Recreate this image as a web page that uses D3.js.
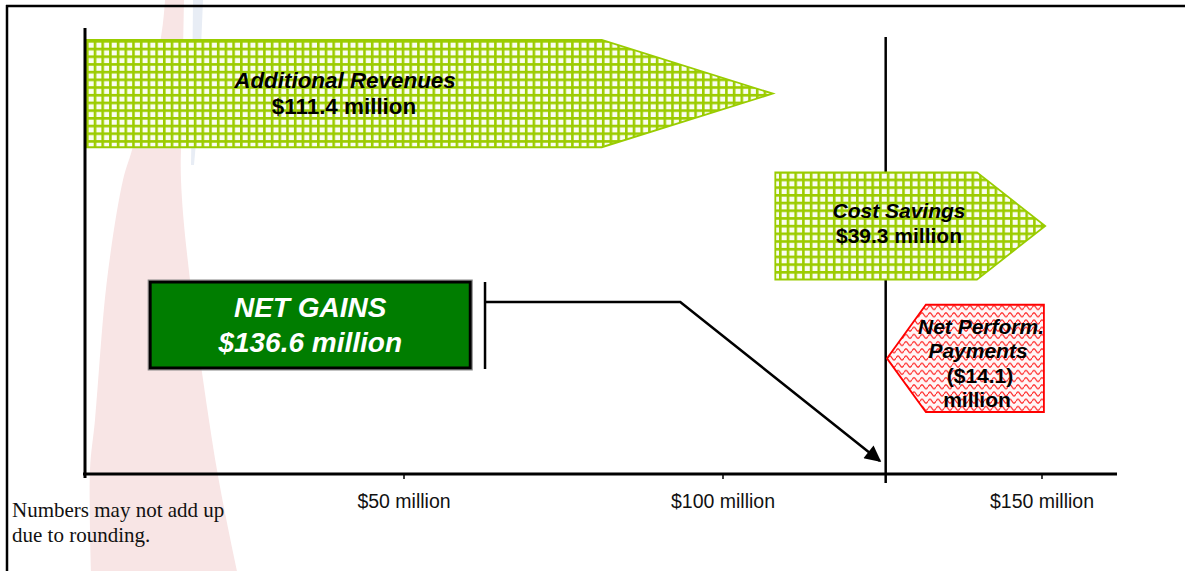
<!DOCTYPE html>
<html>
<head>
<meta charset="utf-8">
<script src="https://cdn.jsdelivr.net/npm/d3@7"></script>
<style>
  html, body { margin: 0; padding: 0; background: #fff; }
  svg { display: block; }
</style>
</head>
<body>
<script>
// ---- Data ----
const segments   = ["rev", "cost", "perf"];
const segTitles  = [["Additional Revenues"], ["Cost Savings"], ["Net Perform.", "Payments"]];
const segValues  = [111.4, 39.3, -14.1];          // $ million, as labelled
const segStart   = [0, 108.2, 150.3];             // drawn extent on the axis ($M)
const segBend    = [81.0, 139.8, 131.8];
const segTip     = [107.8, 150.5, 125.7];
const netGain    = 136.6;
const netLineAt  = 125.5;                         // vertical reference line
const netBoxFrom = [9.9, 60.7];                   // NET GAINS box extent on axis
const connector  = [62.7, 93.3, 124.6];           // bracket, knee, arrow tip
const tickValues = [50, 100, 150];
const tickLabels = ["$50 million", "$100 million", "$150 million"];
const noteLines  = ["Numbers may not add up", "due to rounding."];

// ---- Setup ----
const W = 1185, H = 571;
const svg = d3.select("body").append("svg").attr("width", W).attr("height", H);
const defs = svg.append("defs");

const x = d3.scaleLinear().domain([0, 150]).range([85, 1042]);
const y = d3.scaleBand().domain(segments).range([40, 412]).paddingInner(0.19).paddingOuter(0);
const axisY = 474;

// patterns
const gp = defs.append("pattern").attr("id", "grid").attr("patternUnits", "userSpaceOnUse")
  .attr("width", 7.7).attr("height", 7.7).attr("x", 86).attr("y", 40);
gp.append("rect").attr("width", 7.7).attr("height", 7.7).attr("fill", "#fafdf0");
gp.append("path").attr("d", "M0,1.3 H7.7 M1.3,0 V7.7").attr("stroke", "#9ccc00").attr("stroke-width", 2.6);

const rp = defs.append("pattern").attr("id", "wave").attr("patternUnits", "userSpaceOnUse")
  .attr("width", 8).attr("height", 7.2).attr("x", 0).attr("y", 304);
rp.append("rect").attr("width", 8).attr("height", 7.2).attr("fill", "#fff6f6");
rp.append("path").attr("d", "M0,3.6 C1.5,1 2.5,1 4,3.6 C5.5,6.2 6.5,6.2 8,3.6")
  .attr("fill", "none").attr("stroke", "#ff2a2a").attr("stroke-width", 1.3);

// ---- Background decoration ----
const bgLine = d3.line().curve(d3.curveCatmullRom);
const pinkLeft  = [[165,0],[161,37],[132,150],[123,180],[107,280],[95,420],[90,470],[91,571]];
const pinkRight = [[237,571],[217,470],[190,280],[181,180],[182,120],[184,0]];
svg.append("path").attr("d", bgLine(pinkLeft) + "L" + bgLine(pinkRight).slice(1) + "Z")
  .attr("fill", "#f8e5e5");
svg.append("path").attr("d", "M193,0 L203,0 L198,120 L194,165 L191,165 L192,100 Z")
  .attr("fill", "#e8edf5");

// ---- Frame ----
svg.append("line").attr("x1", 6).attr("x2", W).attr("y1", 6).attr("y2", 6)
  .attr("stroke", "#000").attr("stroke-width", 2.5);
svg.append("line").attr("x1", 7).attr("x2", 7).attr("y1", 5).attr("y2", H)
  .attr("stroke", "#000").attr("stroke-width", 2.5);

// ---- Vertical reference line (behind arrows) ----
svg.append("line").attr("x1", x(netLineAt)).attr("x2", x(netLineAt)).attr("y1", 37).attr("y2", axisY + 9)
  .attr("stroke", "#000").attr("stroke-width", 2.5);

// ---- Arrows ----
const rows = segments.map((s, i) => ({ key: s, start: segStart[i], bend: segBend[i], tip: segTip[i], value: segValues[i], title: segTitles[i] }));

function arrowPath(d) {
  const y0 = y(d.key), y1 = y0 + y.bandwidth(), ym = (y0 + y1) / 2;
  const xs = x(d.start), xb = x(d.bend), xt = x(d.tip);
  return `M${xs},${y0} L${xb},${y0} L${xt},${ym} L${xb},${y1} L${xs},${y1} Z`;
}
svg.selectAll("path.arrow").data(rows).enter().append("path")
  .attr("class", "arrow")
  .attr("d", arrowPath)
  .attr("fill", d => d.value >= 0 ? "url(#grid)" : "url(#wave)")
  .attr("stroke", d => d.value >= 0 ? "#99cc00" : "#ff0000")
  .attr("stroke-width", 1.8)
  .attr("stroke-linejoin", "miter");

// ---- Axes ----
svg.append("line").attr("x1", x(0)).attr("x2", x(0)).attr("y1", 28).attr("y2", axisY + 4)
  .attr("stroke", "#000").attr("stroke-width", 3);
svg.append("line").attr("x1", x(0) - 2).attr("x2", 1117).attr("y1", axisY).attr("y2", axisY)
  .attr("stroke", "#000").attr("stroke-width", 3);

const tickG = svg.selectAll("g.tick").data(tickValues).enter().append("g").attr("class", "tick")
  .attr("transform", d => `translate(${x(d)},${axisY})`);
tickG.append("line").attr("y1", 0).attr("y2", 5).attr("stroke", "#000").attr("stroke-width", 1.5);
tickG.append("text").attr("y", 34).attr("text-anchor", "middle")
  .attr("font-family", "'Liberation Sans', Arial, sans-serif").attr("font-size", 19.5).attr("fill", "#111")
  .text((d, i) => tickLabels[i]);

// ---- Arrow labels ----
const fmt = v => v >= 0 ? `$${v.toFixed(1)} million` : `($${Math.abs(v).toFixed(1)})`;
rows.forEach(d => {
  const y0 = y(d.key);
  let lines;
  if (d.key === "rev") {
    lines = [{ t: d.title[0], it: true, yy: y0 + 48, cx: 345 }, { t: fmt(d.value), it: false, yy: y0 + 74, cx: 344 }];
  } else if (d.key === "cost") {
    lines = [{ t: d.title[0], it: true, yy: y0 + 46, cx: 899 }, { t: fmt(d.value), it: false, yy: y0 + 71, cx: 899 }];
  } else {
    lines = [
      { t: d.title[0], it: true,  yy: y0 + 29, cx: 981 },
      { t: d.title[1], it: true,  yy: y0 + 53, cx: 978 },
      { t: fmt(d.value), it: false, yy: y0 + 78, cx: 980 },
      { t: "million", it: false, yy: y0 + 102, cx: 977 }
    ];
  }
  lines.forEach(l => {
    svg.append("text").attr("x", l.cx).attr("y", l.yy).attr("text-anchor", "middle")
      .attr("font-family", "'Liberation Sans', Arial, sans-serif")
      .attr("font-weight", "bold").attr("font-style", l.it ? "italic" : "normal")
      .attr("font-size", d.key === "rev" ? 22.4 : 21).attr("fill", "#000").text(l.t);
  });
});

// ---- NET GAINS box ----
const bx0 = x(netBoxFrom[0]), bx1 = x(netBoxFrom[1]);
svg.append("rect").attr("x", bx0).attr("y", 280).attr("width", bx1 - bx0).attr("height", 90)
  .attr("fill", "none").attr("stroke", "#888").attr("stroke-width", 1);
svg.append("rect").attr("x", bx0 + 2).attr("y", 282).attr("width", bx1 - bx0 - 4).attr("height", 86)
  .attr("fill", "#007d00").attr("stroke", "#000").attr("stroke-width", 3);
const bcx = (bx0 + bx1) / 2;
[["NET GAINS", 317], [`$${netGain.toFixed(1)} million`, 352]].forEach(([t, yy]) => {
  svg.append("text").attr("x", bcx).attr("y", yy).attr("text-anchor", "middle")
    .attr("font-family", "'Liberation Sans', Arial, sans-serif")
    .attr("font-weight", "bold").attr("font-style", "italic").attr("font-size", 28)
    .attr("fill", "#fff").text(t);
});

// ---- Connector ----
const cb = x(connector[0]), ck = x(connector[1]), ct = x(connector[2]);
svg.append("line").attr("x1", cb).attr("x2", cb).attr("y1", 282).attr("y2", 369)
  .attr("stroke", "#000").attr("stroke-width", 2.5);
defs.append("marker").attr("id", "ah").attr("viewBox", "0 0 10 10").attr("refX", 9).attr("refY", 5)
  .attr("markerWidth", 8).attr("markerHeight", 6.5).attr("markerUnits", "strokeWidth").attr("orient", "auto")
  .append("path").attr("d", "M0,0 L10,5 L0,10 Z").attr("fill", "#000");
svg.append("path").attr("d", `M${cb},302 L${ck},302 L${ct},461`)
  .attr("fill", "none").attr("stroke", "#000").attr("stroke-width", 2.5).attr("marker-end", "url(#ah)");

// ---- Note ----
noteLines.forEach((t, i) => {
  svg.append("text").attr("x", 12).attr("y", 517 + i * 25)
    .attr("font-family", "'Liberation Serif', 'Times New Roman', serif").attr("font-size", 21)
    .attr("fill", "#111").text(t);
});
</script>
</body>
</html>
